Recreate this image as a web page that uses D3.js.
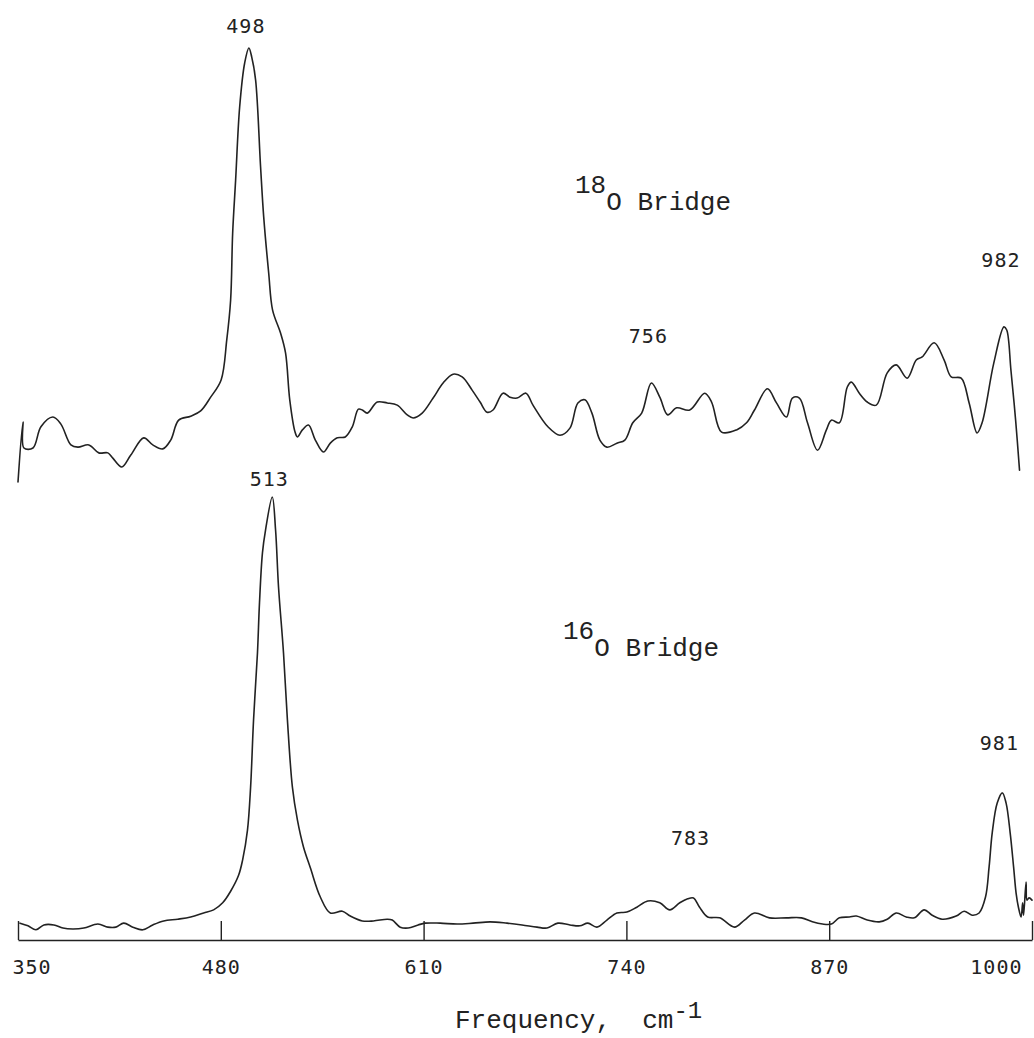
<!DOCTYPE html>
<html>
<head>
<meta charset="utf-8">
<script src="https://cdn.jsdelivr.net/npm/d3@7"></script>
<style>
  html, body { margin: 0; padding: 0; background: #fff; }
  svg { display: block; }
  .plotter { font-family: "DejaVu Sans Mono", monospace; font-size: 20px; letter-spacing: 1px; fill: #222; }
  .typed { font-family: "Liberation Mono", "Courier New", monospace; font-size: 26px; fill: #222; }
</style>
</head>
<body>
<svg id="chart" width="1034" height="1038"></svg>
<script>
// Raman spectra of the oxo-bridged complex, 350–1000 cm-1
// 18O-bridged sample (upper trace), relative intensity
const o18Wavenumber = [
  350.0, 353.2, 353.8, 359.6, 364.7, 372.4, 377.5, 383.9, 388.4, 395.4,
  401.8, 407.6, 410.8, 416.5, 422.3, 430.6, 436.4, 442.8, 447.9, 453.0,
  460.7, 467.1, 473.5, 480.2, 483.8, 486.3, 487.6, 489.5, 492.1, 495.3,
  498.0, 499.8, 502.3, 505.5, 507.5, 510.7, 513.2, 518.3, 521.5, 524.2,
  527.6, 529.1, 532.3, 536.2, 540.6, 545.8, 550.2, 554.7, 559.8, 564.3,
  568.2, 570.7, 573.9, 580.3, 586.7, 593.1, 599.5, 603.3, 609.1, 616.1,
  622.5, 628.9, 634.7, 641.1, 646.2, 650.7, 654.5, 660.9, 665.4, 669.9,
  675.6, 680.1, 689.7, 697.4, 703.8, 708.9, 713.4, 717.9, 723.0, 727.5,
  733.9, 739.0, 744.1, 749.8, 756.0, 761.4, 766.5, 772.2, 780.6, 790.2,
  794.6, 801.0, 810.6, 817.0, 822.1, 830.4, 836.2, 842.6, 846.4, 850.9,
  856.1, 862.5, 868.2, 871.4, 876.5, 881.6, 884.2, 889.3, 894.4, 900.2,
  907.2, 913.0, 920.0, 925.8, 929.6, 937.3, 943.7, 948.2, 954.6, 959.7,
  964.8, 968.0, 975.5, 982.0, 983.8, 986.5, 989.5, 992.0
];
const o18Intensity = [
  1.8, 15.4, 9.5, 9.5, 14.3, 16.5, 14.9, 10.2, 9.7, 10.2,
  8.4, 8.4, 7.2, 5.2, 7.9, 11.8, 10.2, 9.3, 11.3, 15.8,
  16.7, 17.9, 21.0, 24.9, 33.9, 43.0, 58.1, 70.1, 86.7, 96.6,
  100.0, 98.0, 92.8, 73.1, 61.8, 49.1, 40.7, 35.5, 31.0, 20.4,
  13.1, 12.0, 13.6, 14.7, 11.3, 8.6, 10.6, 11.8, 12.0, 14.3,
  18.3, 18.1, 17.4, 19.9, 19.7, 19.2, 17.0, 16.3, 17.4, 20.8,
  24.2, 26.2, 25.6, 22.6, 19.9, 17.6, 18.1, 21.9, 21.0, 20.8,
  21.9, 19.2, 14.3, 12.4, 14.0, 19.7, 20.4, 17.4, 11.3, 9.7,
  10.6, 11.3, 15.2, 17.4, 24.2, 21.0, 17.0, 18.6, 18.1, 21.9,
  19.9, 13.1, 13.6, 15.2, 18.1, 22.9, 19.7, 16.5, 20.8, 20.8,
  15.2, 9.0, 13.6, 15.8, 15.2, 23.3, 24.4, 21.9, 19.9, 19.2,
  26.5, 28.3, 25.3, 29.4, 30.1, 33.3, 29.4, 25.6, 25.3, 19.7,
  12.9, 15.2, 28.7, 36.9, 36.2, 27.1, 15.8, 4.5
];

// 16O-bridged sample (lower trace), relative intensity
const o16Wavenumber = [
  351.3, 356.4, 361.5, 366.6, 373.0, 378.8, 385.2, 392.2, 401.2, 407.6,
  412.7, 417.8, 423.6, 430.0, 436.4, 443.4, 452.4, 460.7, 469.0, 475.4,
  481.2, 486.3, 491.4, 494.0, 497.1, 499.1, 501.0, 503.5, 504.8, 506.7,
  508.7, 513.0, 515.1, 517.0, 520.2, 522.7, 525.9, 529.1, 533.0, 537.4,
  543.8, 550.2, 557.9, 563.0, 570.7, 577.8, 586.7, 589.9, 595.0, 600.1,
  606.5, 611.0, 620.6, 631.5, 641.7, 652.6, 663.5, 673.1, 682.7, 689.1,
  696.1, 703.8, 710.2, 715.3, 721.1, 727.5, 733.9, 740.3, 746.7, 753.7,
  761.4, 767.8, 774.2, 779.3, 783.0, 786.9, 792.1, 799.8, 809.3, 815.7,
  822.1, 831.7, 842.6, 852.2, 859.2, 865.7, 871.4, 876.5, 882.9, 887.4,
  894.4, 902.1, 907.2, 913.0, 919.4, 924.5, 930.9, 936.0, 942.4, 951.4,
  956.5, 961.6, 966.1, 970.2, 972.5, 974.5, 977.7, 981.0, 983.4, 986.0,
  988.2, 989.8, 991.3, 993.0, 994.0, 994.6, 996.2, 996.8, 998.1, 1000.0
];
const o16Intensity = [
  3.8, 3.2, 2.3, 3.4, 3.4, 2.7, 2.5, 2.7, 3.6, 2.9,
  2.9, 3.8, 2.9, 2.3, 3.4, 4.3, 4.7, 5.2, 6.1, 6.8,
  8.4, 11.0, 14.6, 18.1, 24.8, 34.5, 49.7, 64.8, 76.1, 87.4,
  92.6, 100.0, 92.6, 79.7, 64.8, 49.7, 34.5, 27.1, 21.0, 16.3,
  9.7, 6.1, 6.5, 5.4, 4.3, 4.3, 4.7, 4.5, 2.9, 2.7,
  3.4, 3.8, 3.8, 3.6, 3.8, 4.1, 3.8, 3.4, 2.9, 2.7,
  3.8, 3.4, 3.2, 3.8, 2.9, 4.5, 6.1, 6.3, 7.4, 8.8,
  8.4, 6.8, 8.4, 9.3, 9.5, 7.4, 5.2, 5.0, 2.9, 4.5,
  6.1, 5.0, 5.0, 5.0, 4.1, 3.6, 3.6, 5.0, 5.2, 5.4,
  4.5, 4.1, 4.7, 6.1, 5.2, 5.0, 6.8, 5.6, 4.7, 5.4,
  6.5, 5.6, 6.1, 9.7, 16.5, 24.2, 30.9, 33.2, 30.9, 24.2,
  16.5, 10.6, 7.4, 5.2, 8.4, 5.6, 13.1, 9.0, 9.5, 9.0
];

// Frequency axis ticks
const tickValues = [350, 480, 610, 740, 870, 1000];

// Band assignments written above the peaks
const o18PeakPositions = [498, 756, 982];
const o16PeakPositions = [513, 783, 981];

const svg = d3.select("#chart");
const ink = "#222";

const x = d3.scaleLinear().domain([350, 1000]).range([18, 1032]);
const yTop = d3.scaleLinear().domain([0, 100]).range([490, 48]);
const yBottom = d3.scaleLinear().domain([0, 100]).range([940, 497]);
const axisY = 940;

function trace(wn, inten, y) {
  const pts = wn.map((w, i) => [w, inten[i]]);
  const line = d3.line()
    .x(d => x(d[0]))
    .y(d => y(d[1]))
    .curve(d3.curveCatmullRom.alpha(0.5));
  svg.append("path")
    .attr("d", line(pts))
    .attr("fill", "none")
    .attr("stroke", ink)
    .attr("stroke-width", 1.6)
    .attr("stroke-linejoin", "round")
    .attr("stroke-linecap", "round");
}

trace(o18Wavenumber, o18Intensity, yTop);
trace(o16Wavenumber, o16Intensity, yBottom);

// Frequency axis with upward ticks
const axis = d3.axisBottom(x)
  .tickValues(tickValues)
  .tickSizeInner(-19)
  .tickSizeOuter(0)
  .tickPadding(20)
  .tickFormat(d3.format("d"));

const gAxis = svg.append("g")
  .attr("transform", `translate(0,${axisY})`)
  .call(axis);

gAxis.attr("font-size", null).attr("font-family", null);
gAxis.select(".domain").attr("stroke", ink).attr("stroke-width", 1.6);
gAxis.selectAll(".tick line").attr("stroke", ink).attr("stroke-width", 1.4);
gAxis.selectAll(".tick text")
  .attr("class", "plotter")
  .attr("fill", ink);

// keep the end labels inside the frame
gAxis.selectAll(".tick text")
  .filter(d => d === 350)
  .attr("text-anchor", "start")
  .attr("x", -6);
gAxis.selectAll(".tick text")
  .filter(d => d === 1000)
  .attr("text-anchor", "end")
  .attr("x", -10);

// Peak labels, lifted clear of the trace by a per-band gap (px)
const labelGap = { 498: 15, 756: 40, 982: 60, 513: 11, 981: 43, 783: 53 };
function peakLabels(positions, wn, inten, y) {
  positions.forEach(p => {
    let best = 0;
    wn.forEach((w, i) => { if (Math.abs(w - p) < Math.abs(wn[best] - p)) best = i; });
    svg.append("text")
      .attr("class", "plotter")
      .attr("text-anchor", "middle")
      .attr("x", x(p) - 3)
      .attr("y", y(inten[best]) - labelGap[p])
      .text(p);
  });
}
peakLabels(o18PeakPositions, o18Wavenumber, o18Intensity, yTop);
peakLabels(o16PeakPositions, o16Wavenumber, o16Intensity, yBottom);

// Sample labels with isotope superscripts
function isotopeLabel(mass, px, py) {
  const t = svg.append("text").attr("class", "typed").attr("x", px).attr("y", py - 17);
  t.append("tspan").text(mass);
  t.append("tspan").attr("dy", 17).text("O Bridge");
}
isotopeLabel("18", 575, 210);
isotopeLabel("16", 563, 656);

// Axis title
const title = svg.append("text").attr("class", "typed").attr("x", 455).attr("y", 1028)
  .style("white-space", "pre");
title.append("tspan").text("Frequency,  cm");
title.append("tspan").attr("dy", -10).attr("font-size", 24).text("-1");
</script>
</body>
</html>
